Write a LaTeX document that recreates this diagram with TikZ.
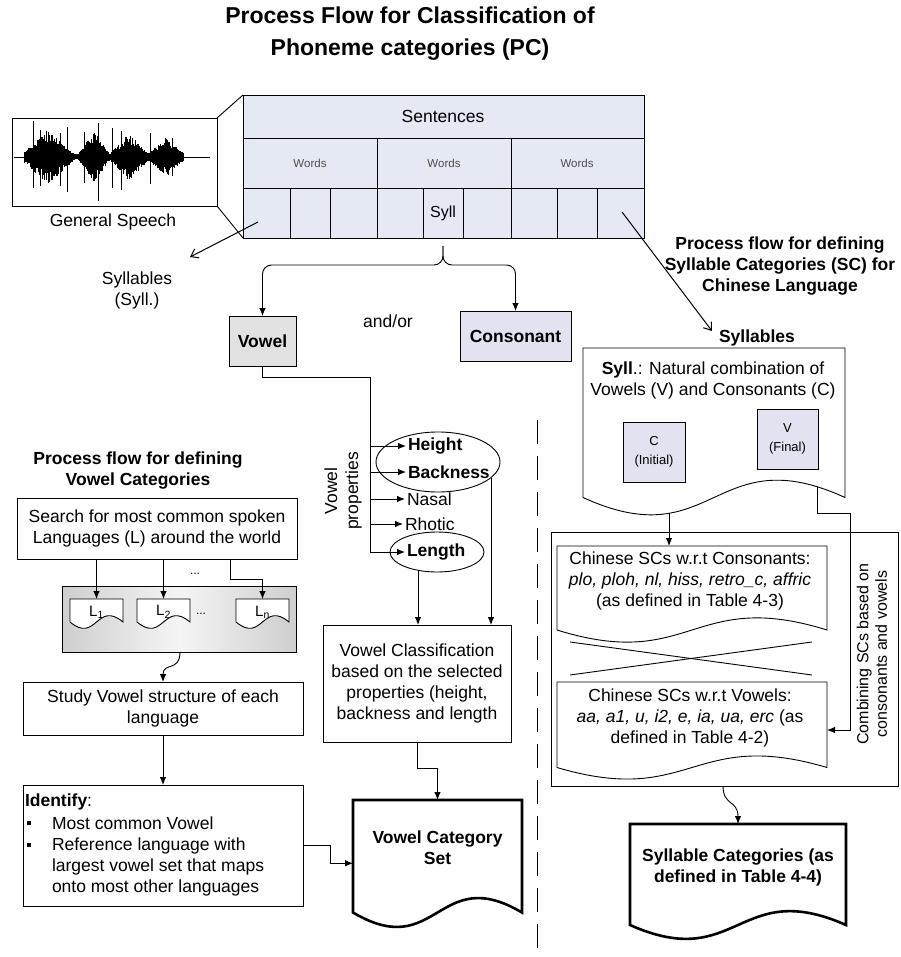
\documentclass[tikz,border=0pt]{standalone}
\usepackage{fontspec}
\setmainfont{Liberation Sans}
\usetikzlibrary{arrows.meta,calc,shapes.geometric}
\definecolor{tablefill}{RGB}{228,233,243}
\definecolor{lavender}{RGB}{226,226,240}
\definecolor{boxgray}{RGB}{226,226,226}

% outline of a flowchart "document" shape drawn around an (invisible) frame node
\newcommand{\docframe}[3][]{%
  \draw[line width=0.9pt,#1] (#2.north west) -- (#2.north east) -- (#2.south east)
    .. controls ($(#2.south east)!0.5!(#2.south west)+(0,-#3)$)
       and ($(#2.south west)!0.5!(#2.south east)+(0,#3)$) .. (#2.south west) -- cycle;}

\begin{document}
\begin{tikzpicture}[x=1pt,y=-1pt,
  every node/.style={font=\fontsize{17.5}{21}\selectfont, inner sep=0pt, outer sep=0pt},
  lbl/.style={align=center},
  bold/.style={font=\fontsize{17.5}{21}\selectfont\bfseries},
  box/.style={draw, line width=0.9pt, anchor=north west, align=center},
  docnode/.style={anchor=north west},
  plain/.style={line width=0.9pt},
  conn/.style={line width=0.9pt, -{Latex[length=8pt,width=6.5pt]}},
  openarr/.style={line width=1pt, -{Straight Barb[length=7pt,width=10pt]}},
  small/.style={font=\fontsize{13}{18.5}\selectfont},
  tiny/.style={font=\fontsize{11.5}{14}\selectfont, text=black!70}]

\useasboundingbox (0,0) rectangle (900,957);

% ---------- title ----------
\node[lbl, font=\fontsize{23}{32}\selectfont\bfseries] (title) at (410,34)
  {Process Flow for Classification of\\Phoneme categories (PC)};

% ---------- speech signal ----------
\node[box, minimum width=205pt, minimum height=88pt] (speech) at (12,118) {};
\draw[line width=0.6pt] (14,157) -- (210,157);
\pgfmathsetseed{17}
\foreach \x in {24,24.6,...,184} {
  \pgfmathsetmacro{\env}{max(0,1-abs((\x-48)/27))*25 + max(0,1-abs((\x-94)/16))*23
     + max(0,1-abs((\x-129)/20))*22 + max(0,1-abs((\x-166)/19))*17}
  \pgfmathsetmacro{\up}{\env*(0.45+0.55*rnd)+2.5}
  \pgfmathsetmacro{\dn}{\env*(0.45+0.55*rnd)+2.5}
  \draw[line width=1pt] (\x,{157-\up}) -- (\x,{157+\dn});
}
\draw[line width=1pt] (33,121) -- (33,188) (40,130) -- (40,186) (98,123) -- (98,201)
  (67,127) -- (67,192) (60,133) -- (60,186) (112,128) -- (112,188) (121,131) -- (121,190)
  (150,133) -- (150,184) (172,138) -- (172,176) (84,132) -- (84,183);
\node (speechlbl) at (113,222) {General Speech};

% ---------- sentence / word / syllable table ----------
\node[box, fill=tablefill, minimum width=401pt, minimum height=143pt] (table) at (243,95) {};
\draw[plain] (243,138) -- (644,138) (243,188) -- (644,188);
\draw[plain] (377,138) -- (377,238) (511,138) -- (511,238);
\foreach \x in {290,330,423,463,557,597} \draw[plain] (\x,188) -- (\x,238);
\node (sent) at (443,116) {Sentences};
\node[tiny] (w1) at (310,163) {Words};
\node[tiny] (w2) at (444,163) {Words};
\node[tiny] (w3) at (577,163) {Words};
\node[font=\fontsize{16}{19}\selectfont] (syll) at (443,213) {Syll};
\draw[plain] (speech.north east) -- (table.north west);
\draw[plain] (speech.south east) -- (table.south west);

% ---------- syllables (left label) ----------
\node[lbl] (sylllbl) at (137,290) {Syllables\\(Syll.)};
\coordinate (cellL) at (258,222);
\coordinate (sylltip) at (190,257);
\draw[openarr] (cellL) -- (sylltip);

% ---------- right heading ----------
\node[lbl, bold] (rtitle) at (780,266)
  {Process flow for defining\\Syllable Categories (SC) for\\Chinese Language};
\node[bold] (syltitle) at (757,338) {Syllables};
\coordinate (cellR) at (622,212);
\coordinate (syltip) at (712,331);
\draw[openarr] (cellR) -- (syltip);

% ---------- vowel / consonant ----------
\node[box, fill=boxgray, minimum width=67pt, minimum height=50pt, bold] (vowel) at (229,316) {Vowel};
\node[box, fill=lavender, minimum width=111pt, minimum height=50pt, bold] (cons) at (460,311) {Consonant};
\node (andor) at (388,321) {and/or};
\coordinate (bt) at (443,246);
\draw[conn, rounded corners=9pt] (bt) |- (vowel.north |- 0,265) -- (vowel.north);
\draw[conn, rounded corners=9pt] (bt) |- (cons.north |- 0,265) -- (cons.north);

% ---------- vowel properties ----------
\node[lbl, rotate=90] (vprop) at (343,491) {Vowel\\properties};
\node[anchor=west, bold] (pH) at (408,446) {Height};
\node[anchor=west, bold] (pB) at (408,472) {Backness};
\node[anchor=west] (pN) at (407,499) {Nasal};
\node[anchor=west] (pR) at (405,524) {Rhotic};
\node[anchor=west, bold] (pL) at (407,552) {Length};
\node[draw, ellipse, line width=0.9pt, minimum width=124pt, minimum height=60pt] (eHB) at (438,462) {};
\node[draw, ellipse, line width=0.9pt, minimum width=94pt, minimum height=40pt] (eL) at (437,552) {};
\coordinate (tt) at (370,377);
\coordinate (tb) at (370,552);
\draw[conn, shorten >=2pt] (vowel.south) |- (tt) -- (tb) -- (pL.west);
\foreach \p in {pH,pB,pN,pR} \draw[conn, shorten >=2pt] (tt |- \p.west) -- (\p.west);

% ---------- vowel classification ----------
\node[box, minimum width=188pt, minimum height=117pt] (vclass) at (323,625)
  {Vowel Classification\\based on the selected\\properties (height,\\backness and length};
\coordinate (lenout) at ([xshift=-19pt,yshift=1.5pt]eL.south);
\draw[conn] (lenout) -- (lenout |- vclass.north);
\coordinate (hbout) at ([xshift=53pt,yshift=-15.6pt]eHB.center);
\draw[conn] (hbout) -- (hbout |- vclass.north);

\node[docnode, minimum width=169pt, minimum height=112.5pt] (vcs) at (353,800) {};
\docframe[line width=2.6pt]{vcs}{50}
\node[lbl, bold] (vcstext) at (437.5,847.5) {Vowel Category\\Set};
\draw[conn] (vclass.south) -- ++(0,26) -| (vcs.north);

% ---------- vowel categories (left column) ----------
\node[lbl, bold] (ltitle) at (138,470.5) {Process flow for defining\\Vowel Categories};
\node[box, minimum width=280pt, minimum height=61pt] (search) at (17,498)
  {Search for most common spoken\\Languages (L) around the world};
\node[box, left color=gray!38, right color=gray!38, middle color=gray!8,
      minimum width=234pt, minimum height=66pt] (cont) at (62,586) {};
\node[docnode, minimum width=53pt, minimum height=23pt] (L1) at (70,599) {};
\node[docnode, minimum width=53pt, minimum height=23pt] (L2) at (137,599) {};
\node[docnode, minimum width=53pt, minimum height=23pt] (Ln) at (236,599) {};
\docframe[fill=white]{L1}{22}
\docframe[fill=white]{L2}{22}
\docframe[fill=white]{Ln}{22}
\node[font=\fontsize{15}{18}\selectfont] (L1t) at (96.5,612) {L\textsubscript{1}};
\node[font=\fontsize{15}{18}\selectfont] (L2t) at (163.5,612) {L\textsubscript{2}};
\node[font=\fontsize{15}{18}\selectfont] (Lnt) at (262.5,612) {L\textsubscript{n}};
\node[font=\fontsize{12}{14}\selectfont] (dots1) at (201,614) {...};
\node[font=\fontsize{12}{14}\selectfont] (dots2) at (195,574) {...};
\draw[conn] (search.south -| L1.north) -- (L1.north);
\draw[conn] (search.south -| L2.north) -- (L2.north);
\draw[conn] (search.south -| 230,0) -- (230,579) -| (Ln.north);

\node[box, minimum width=280pt, minimum height=53pt] (study) at (23,682)
  {Study Vowel structure of each\\language};
\draw[conn] (cont.south -| 180,0) .. controls (180,672) and (163,662) .. (study.north);

\node[box, minimum width=280pt, minimum height=121pt] (ident) at (23,785) {};
\node[anchor=west] (idhead) at (25,802) {\textbf{Identify}:};
\node[fill, rectangle, minimum size=3.6pt] (bul1) at (29,823) {};
\node[fill, rectangle, minimum size=3.6pt] (bul2) at (29,845) {};
\node[anchor=west] (id1) at (52,823) {Most common Vowel};
\node[anchor=west, align=left] (id2) at (52,866.5)
  {Reference language with\\largest vowel set that maps\\onto most other languages};
\draw[conn] (study.south) -- (ident.north);
\draw[conn] (ident.east) -- ++(27,0) |- ([yshift=-7pt]vcs.west);

% ---------- divider ----------
\draw[line width=1pt, dash pattern=on 24pt off 12pt] (537,420) -- (537,957);

% ---------- syllable categories (right column) ----------
\node[docnode, minimum width=262pt, minimum height=149.5pt] (syl) at (583,348) {};
\docframe[fill=white]{syl}{60}
\node[lbl] (syltext) at (713,380.5)
  {\textbf{Syll}.: Natural combination of\\Vowels (V) and Consonants (C)};
\node[box, fill=lavender, minimum width=62pt, minimum height=60pt, small] (cbox) at (623,422) {C\\(Initial)};
\node[box, fill=lavender, minimum width=61pt, minimum height=60pt, small] (vbox) at (757,409) {V\\(Final)};

\node[box, minimum width=347pt, minimum height=254pt] (cbig) at (551,532) {};
\node[docnode, minimum width=270pt, minimum height=84pt] (cdoc) at (557,546) {};
\docframe{cdoc}{42}
\node[lbl] (cdoctext) at (690,581)
  {Chinese SCs w.r.t Consonants:\\\textit{plo, ploh, nl, hiss, retro\_c, affric}\\(as defined in Table 4-3)};
\draw[plain] (570,642) -- (812,675);
\draw[plain] (570,675) -- (812,642);
\node[docnode, minimum width=270pt, minimum height=85.5pt] (vdoc) at (557,682) {};
\docframe{vdoc}{40}
\node[lbl] (vdoctext) at (690,718)
  {Chinese SCs w.r.t Vowels:\\\textit{aa, a1, u, i2, e, ia, ua, erc} (as\\defined in Table 4-2)};
\node[lbl, rotate=90, font=\fontsize{16}{18.5}\selectfont] (combtxt) at (872,654)
  {Combining SCs based on\\consonants and vowels};

\coordinate (sylout) at (669,513.3);
\draw[conn] (sylout) -- (sylout |- cdoc.north);
\coordinate (vline) at (817,487);
\draw[conn] (vline) -- (817,513) -| (850,730) -- (vdoc.east |- 0,730);

\node[docnode, minimum width=216pt, minimum height=101pt] (scat) at (630,824) {};
\docframe[line width=2.6pt]{scat}{48}
\node[lbl, bold] (scattext) at (738,867.5) {Syllable Categories (as\\defined in Table 4-4)};
\draw[conn] (cbig.south -| 723,0) .. controls (723,806) and (738,800) .. (scat.north);

\end{tikzpicture}
\end{document}
